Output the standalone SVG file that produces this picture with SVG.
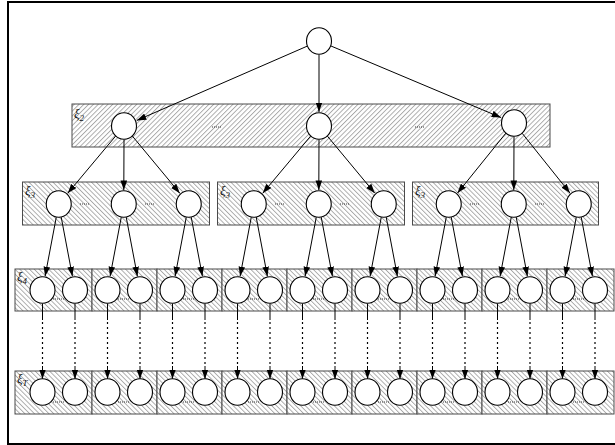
<svg xmlns="http://www.w3.org/2000/svg" width="615" height="445" viewBox="0 0 615 445">
<style>
.n{fill:#fff;stroke:#000;stroke-width:1.1}
.bx{stroke:#4a4a4a;stroke-width:1}
.e{stroke:#000;stroke-width:1;fill:none}
.a{marker-end:url(#ah)}
.dt{stroke:#000;stroke-width:1.2;stroke-dasharray:2 3}
.sd{stroke:#222;stroke-width:0.9;stroke-dasharray:1 1}
.lb{font-family:"Liberation Serif",serif;font-style:italic;font-size:13px;fill:#111}
.sb{font-size:9px}
</style>
<defs>
<pattern id="hf" width="3.4" height="3.4" patternUnits="userSpaceOnUse" patternTransform="rotate(45)">
<rect width="3.4" height="3.4" fill="#fff"/><line x1="0.5" y1="0" x2="0.5" y2="3.4" stroke="#999" stroke-width="0.8"/>
</pattern>
<pattern id="hb" width="3.4" height="3.4" patternUnits="userSpaceOnUse" patternTransform="rotate(-45)">
<rect width="3.4" height="3.4" fill="#fff"/><line x1="0.5" y1="0" x2="0.5" y2="3.4" stroke="#999" stroke-width="0.8"/>
</pattern>
<marker id="ah" viewBox="0 0 10 7" markerWidth="9.5" markerHeight="7" refX="10" refY="3.5" orient="auto" markerUnits="userSpaceOnUse">
<path d="M0,0 L10,3.5 L0,7 z" fill="#000"/>
</marker>
</defs>
<rect width="615" height="445" fill="#fff"/>
<path d="M616,2 H8 V444 H616" fill="none" stroke="#000" stroke-width="2"/>

<!-- containers -->
<g id="box-l2"><rect class="bx" x="72" y="104" width="478" height="43" fill="url(#hf)"/>
<text class="lb" x="74" y="118">ξ<tspan class="sb" dy="3">2</tspan></text>
<line class="sd" x1="212" y1="127" x2="221" y2="127"/><line class="sd" x1="415" y1="127" x2="424" y2="127"/></g>
<g id="box-l3a"><rect class="bx" x="22.5" y="182" width="187" height="43" fill="url(#hb)"/>
<text class="lb" x="25" y="195">ξ<tspan class="sb" dy="3">3</tspan></text></g>
<g id="box-l3b"><rect class="bx" x="217.5" y="182" width="187" height="43" fill="url(#hb)"/>
<text class="lb" x="220" y="195">ξ<tspan class="sb" dy="3">3</tspan></text></g>
<g id="box-l3c"><rect class="bx" x="412.5" y="182" width="186" height="43" fill="url(#hb)"/>
<text class="lb" x="415" y="195">ξ<tspan class="sb" dy="3">3</tspan></text></g>
<g id="box-l4">
<rect class="bx" x="15" y="269" width="77" height="42" fill="url(#hb)"/>
<rect class="bx" x="92" y="269" width="65" height="42" fill="url(#hb)"/>
<rect class="bx" x="157" y="269" width="65" height="42" fill="url(#hb)"/>
<rect class="bx" x="222" y="269" width="65" height="42" fill="url(#hb)"/>
<rect class="bx" x="287" y="269" width="65" height="42" fill="url(#hb)"/>
<rect class="bx" x="352" y="269" width="65" height="42" fill="url(#hb)"/>
<rect class="bx" x="417" y="269" width="65" height="42" fill="url(#hb)"/>
<rect class="bx" x="482" y="269" width="65" height="42" fill="url(#hb)"/>
<rect class="bx" x="547" y="269" width="67" height="42" fill="url(#hb)"/>
<text class="lb" x="17" y="281">ξ<tspan class="sb" dy="3">4</tspan></text></g>
<g id="box-lT">
<rect class="bx" x="15" y="371" width="77" height="43" fill="url(#hb)"/>
<rect class="bx" x="92" y="371" width="65" height="43" fill="url(#hb)"/>
<rect class="bx" x="157" y="371" width="65" height="43" fill="url(#hb)"/>
<rect class="bx" x="222" y="371" width="65" height="43" fill="url(#hb)"/>
<rect class="bx" x="287" y="371" width="65" height="43" fill="url(#hb)"/>
<rect class="bx" x="352" y="371" width="65" height="43" fill="url(#hb)"/>
<rect class="bx" x="417" y="371" width="65" height="43" fill="url(#hb)"/>
<rect class="bx" x="482" y="371" width="65" height="43" fill="url(#hb)"/>
<rect class="bx" x="547" y="371" width="67" height="43" fill="url(#hb)"/>
<text class="lb" x="17" y="383">ξ<tspan class="sb" dy="3">T</tspan></text></g>

<!-- connectors -->
<g id="connectors">
<line class="e a" x1="307.1" y1="46.2" x2="136.8" y2="120.4"/>
<line class="e a" x1="319" y1="54.5" x2="319" y2="112"/>
<line class="e a" x1="331" y1="46" x2="501.1" y2="117.6"/>

<line class="e a" x1="115.7" y1="136" x2="67.7" y2="193.3"/>
<line class="e a" x1="124" y1="139.5" x2="123.8" y2="190"/>
<line class="e a" x1="132.3" y1="136" x2="179.8" y2="193.2"/>
<line class="e a" x1="310.7" y1="136" x2="262.7" y2="193.3"/>
<line class="e a" x1="319" y1="139.5" x2="318.8" y2="190"/>
<line class="e a" x1="327.3" y1="136" x2="374.8" y2="193.2"/>
<line class="e a" x1="505.9" y1="133.1" x2="457.5" y2="193.1"/>
<line class="e a" x1="514" y1="136.5" x2="513.8" y2="190"/>
<line class="e a" x1="522.1" y1="133.2" x2="570" y2="193.1"/>

<line class="e a" x1="56.35" y1="216.8" x2="45.1" y2="276.2"/><line class="e a" x1="61.15" y1="216.8" x2="72.4" y2="276.2"/>
<line class="e a" x1="121.35" y1="216.8" x2="110.1" y2="276.2"/><line class="e a" x1="126.15" y1="216.8" x2="137.4" y2="276.2"/>
<line class="e a" x1="186.35" y1="216.8" x2="175.1" y2="276.2"/><line class="e a" x1="191.15" y1="216.8" x2="202.4" y2="276.2"/>
<line class="e a" x1="251.35" y1="216.8" x2="240.1" y2="276.2"/><line class="e a" x1="256.15" y1="216.8" x2="267.4" y2="276.2"/>
<line class="e a" x1="316.35" y1="216.8" x2="305.1" y2="276.2"/><line class="e a" x1="321.15" y1="216.8" x2="332.4" y2="276.2"/>
<line class="e a" x1="381.35" y1="216.8" x2="370.1" y2="276.2"/><line class="e a" x1="386.15" y1="216.8" x2="397.4" y2="276.2"/>
<line class="e a" x1="446.35" y1="216.8" x2="435.1" y2="276.2"/><line class="e a" x1="451.15" y1="216.8" x2="462.4" y2="276.2"/>
<line class="e a" x1="511.35" y1="216.8" x2="500.1" y2="276.2"/><line class="e a" x1="516.15" y1="216.8" x2="527.4" y2="276.2"/>
<line class="e a" x1="576.35" y1="216.8" x2="565.1" y2="276.2"/><line class="e a" x1="581.15" y1="216.8" x2="592.4" y2="276.2"/>

<g id="l4-to-lT">
<path class="e" d="M42.5,303.5V320M75,303.5V320M107.5,303.5V320M140,303.5V320M172.5,303.5V320M205,303.5V320M237.5,303.5V320M270,303.5V320M302.5,303.5V320M335,303.5V320M367.5,303.5V320M400,303.5V320M432.5,303.5V320M465,303.5V320M497.5,303.5V320M530,303.5V320M562.5,303.5V320M595,303.5V320"/>
<path class="dt" d="M42.5,322V364M75,322V364M107.5,322V364M140,322V364M172.5,322V364M205,322V364M237.5,322V364M270,322V364M302.5,322V364M335,322V364M367.5,322V364M400,322V364M432.5,322V364M465,322V364M497.5,322V364M530,322V364M562.5,322V364M595,322V364"/>
<line class="e a" x1="42.5" y1="366" x2="42.5" y2="379"/><line class="e a" x1="75" y1="366" x2="75" y2="379"/>
<line class="e a" x1="107.5" y1="366" x2="107.5" y2="379"/><line class="e a" x1="140" y1="366" x2="140" y2="379"/>
<line class="e a" x1="172.5" y1="366" x2="172.5" y2="379"/><line class="e a" x1="205" y1="366" x2="205" y2="379"/>
<line class="e a" x1="237.5" y1="366" x2="237.5" y2="379"/><line class="e a" x1="270" y1="366" x2="270" y2="379"/>
<line class="e a" x1="302.5" y1="366" x2="302.5" y2="379"/><line class="e a" x1="335" y1="366" x2="335" y2="379"/>
<line class="e a" x1="367.5" y1="366" x2="367.5" y2="379"/><line class="e a" x1="400" y1="366" x2="400" y2="379"/>
<line class="e a" x1="432.5" y1="366" x2="432.5" y2="379"/><line class="e a" x1="465" y1="366" x2="465" y2="379"/>
<line class="e a" x1="497.5" y1="366" x2="497.5" y2="379"/><line class="e a" x1="530" y1="366" x2="530" y2="379"/>
<line class="e a" x1="562.5" y1="366" x2="562.5" y2="379"/><line class="e a" x1="595" y1="366" x2="595" y2="379"/>
</g>
</g>

<!-- nodes -->
<g id="root"><ellipse class="n" cx="319" cy="41" rx="12.5" ry="13.3"/></g>
<g id="l2-1"><ellipse class="n" cx="124" cy="126" rx="12.5" ry="13.3"/></g>
<g id="l2-2"><ellipse class="n" cx="319" cy="126" rx="12.5" ry="13.3"/></g>
<g id="l2-3"><ellipse class="n" cx="514" cy="123" rx="12.5" ry="13.3"/></g>

<g id="l3-nodes">
<g id="l3-1"><ellipse class="n" cx="58.75" cy="204" rx="12.5" ry="13.3"/></g>
<g id="l3-2"><ellipse class="n" cx="123.75" cy="204" rx="12.5" ry="13.3"/></g>
<g id="l3-3"><ellipse class="n" cx="188.75" cy="204" rx="12.5" ry="13.3"/></g>
<g id="l3-4"><ellipse class="n" cx="253.75" cy="204" rx="12.5" ry="13.3"/></g>
<g id="l3-5"><ellipse class="n" cx="318.75" cy="204" rx="12.5" ry="13.3"/></g>
<g id="l3-6"><ellipse class="n" cx="383.75" cy="204" rx="12.5" ry="13.3"/></g>
<g id="l3-7"><ellipse class="n" cx="448.75" cy="204" rx="12.5" ry="13.3"/></g>
<g id="l3-8"><ellipse class="n" cx="513.75" cy="204" rx="12.5" ry="13.3"/></g>
<g id="l3-9"><ellipse class="n" cx="578.75" cy="204" rx="12.5" ry="13.3"/></g>
<path class="sd" d="M80,204H90M145,204H155M275,204H285M340,204H350M470,204H480M535,204H545"/>
</g>

<g id="l4-nodes">
<path class="sd" d="M53,299H64M118,299H129M183,299H194M248,299H259M313,299H324M378,299H389M443,299H454M508,299H519M573,299H584"/>
<g id="l4-1"><ellipse class="n" cx="42.5" cy="290" rx="12.5" ry="13.3"/><ellipse class="n" cx="75" cy="290" rx="12.5" ry="13.3"/></g>
<g id="l4-2"><ellipse class="n" cx="107.5" cy="290" rx="12.5" ry="13.3"/><ellipse class="n" cx="140" cy="290" rx="12.5" ry="13.3"/></g>
<g id="l4-3"><ellipse class="n" cx="172.5" cy="290" rx="12.5" ry="13.3"/><ellipse class="n" cx="205" cy="290" rx="12.5" ry="13.3"/></g>
<g id="l4-4"><ellipse class="n" cx="237.5" cy="290" rx="12.5" ry="13.3"/><ellipse class="n" cx="270" cy="290" rx="12.5" ry="13.3"/></g>
<g id="l4-5"><ellipse class="n" cx="302.5" cy="290" rx="12.5" ry="13.3"/><ellipse class="n" cx="335" cy="290" rx="12.5" ry="13.3"/></g>
<g id="l4-6"><ellipse class="n" cx="367.5" cy="290" rx="12.5" ry="13.3"/><ellipse class="n" cx="400" cy="290" rx="12.5" ry="13.3"/></g>
<g id="l4-7"><ellipse class="n" cx="432.5" cy="290" rx="12.5" ry="13.3"/><ellipse class="n" cx="465" cy="290" rx="12.5" ry="13.3"/></g>
<g id="l4-8"><ellipse class="n" cx="497.5" cy="290" rx="12.5" ry="13.3"/><ellipse class="n" cx="530" cy="290" rx="12.5" ry="13.3"/></g>
<g id="l4-9"><ellipse class="n" cx="562.5" cy="290" rx="12.5" ry="13.3"/><ellipse class="n" cx="595" cy="290" rx="12.5" ry="13.3"/></g>
</g>

<g id="lT-nodes">
<path class="sd" d="M53,402H64M118,402H129M183,402H194M248,402H259M313,402H324M378,402H389M443,402H454M508,402H519M573,402H584"/>
<g id="lT-1"><ellipse class="n" cx="42.5" cy="392" rx="12.5" ry="13.3"/><ellipse class="n" cx="75" cy="392" rx="12.5" ry="13.3"/></g>
<g id="lT-2"><ellipse class="n" cx="107.5" cy="392" rx="12.5" ry="13.3"/><ellipse class="n" cx="140" cy="392" rx="12.5" ry="13.3"/></g>
<g id="lT-3"><ellipse class="n" cx="172.5" cy="392" rx="12.5" ry="13.3"/><ellipse class="n" cx="205" cy="392" rx="12.5" ry="13.3"/></g>
<g id="lT-4"><ellipse class="n" cx="237.5" cy="392" rx="12.5" ry="13.3"/><ellipse class="n" cx="270" cy="392" rx="12.5" ry="13.3"/></g>
<g id="lT-5"><ellipse class="n" cx="302.5" cy="392" rx="12.5" ry="13.3"/><ellipse class="n" cx="335" cy="392" rx="12.5" ry="13.3"/></g>
<g id="lT-6"><ellipse class="n" cx="367.5" cy="392" rx="12.5" ry="13.3"/><ellipse class="n" cx="400" cy="392" rx="12.5" ry="13.3"/></g>
<g id="lT-7"><ellipse class="n" cx="432.5" cy="392" rx="12.5" ry="13.3"/><ellipse class="n" cx="465" cy="392" rx="12.5" ry="13.3"/></g>
<g id="lT-8"><ellipse class="n" cx="497.5" cy="392" rx="12.5" ry="13.3"/><ellipse class="n" cx="530" cy="392" rx="12.5" ry="13.3"/></g>
<g id="lT-9"><ellipse class="n" cx="562.5" cy="392" rx="12.5" ry="13.3"/><ellipse class="n" cx="595" cy="392" rx="12.5" ry="13.3"/></g>
</g>
</svg>
